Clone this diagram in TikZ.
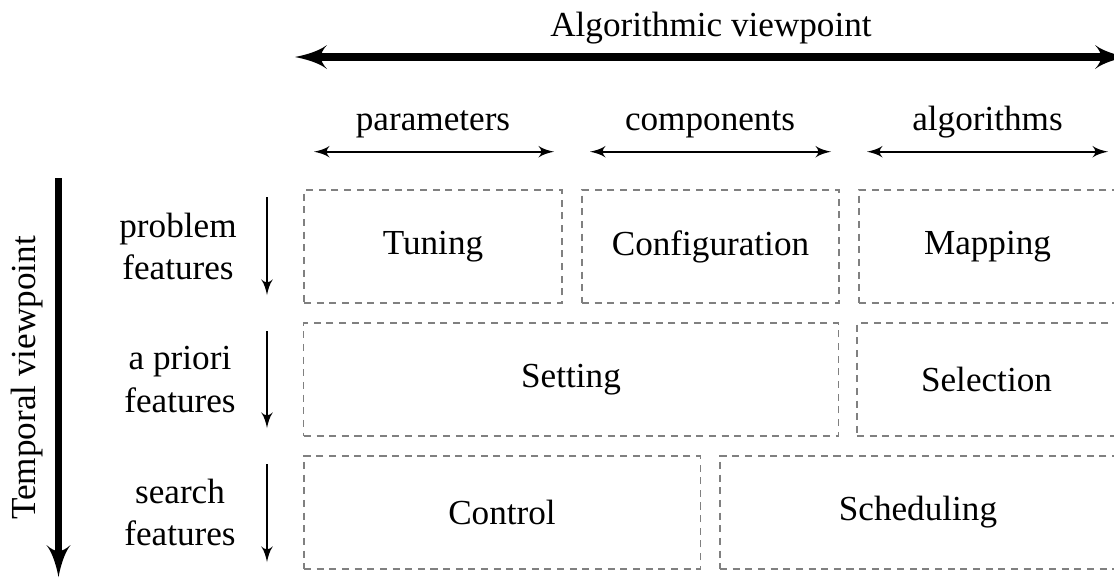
\documentclass[tikz,border=0pt]{standalone}
\usepackage{fontspec}
\setmainfont{Liberation Serif}
\usetikzlibrary{arrows}
\tikzstyle{cell}=[rectangle,draw=gray,dash pattern=on 2pt off 1.6pt,line width=0.35pt,minimum height=1.13cm,inner sep=0pt]
\tikzstyle{feat}=[align=center]
\tikzstyle{axis}=[line width=2.1pt,>=latex']
\tikzstyle{span}=[line width=0.55pt,>=latex']

\begin{document}
\begin{tikzpicture}[x=0.01cm,y=-0.01cm,font=\fontsize{10}{12.2}\selectfont]
  \useasboundingbox (0,0) rectangle (1114,578);
  %两条主轴
  \coordinate (aleft) at (295,57);
  \coordinate (aright) at (1127,57);
  \draw[axis,<->] (aleft)--(aright);
  \node[anchor=base] (algo) at (711,36){Algorithmic viewpoint};
  \coordinate (ttop) at (58.5,178);
  \coordinate (tbot) at (58.5,577);
  \draw[axis,->] (ttop)--(tbot);
  \node[rotate=90,anchor=base] (temp) at (35,378){Temporal viewpoint};
  %上方三段
  \node[anchor=base] (par) at (433,130){parameters};
  \node[anchor=base] (comp) at (710,130){components};
  \node[anchor=base] (alg) at (987.5,130){algorithms};
  \coordinate (p1) at (314,151.7);
  \coordinate (p2) at (554,151.7);
  \coordinate (c1) at (590,151.7);
  \coordinate (c2) at (831,151.7);
  \coordinate (g1) at (867,151.7);
  \coordinate (g2) at (1108,151.7);
  \draw[span,<->] (p1)--(p2);
  \draw[span,<->] (c1)--(c2);
  \draw[span,<->] (g1)--(g2);
  %左侧特征
  \node[feat] (prob) at (178,246.5){problem\\features};
  \node[feat] (apri) at (180,379.5){a priori\\features};
  \node[feat] (srch) at (180,512.5){search\\features};
  \coordinate (f1) at (267,197);
  \coordinate (f2) at (267,295);
  \coordinate (f3) at (267,331);
  \coordinate (f4) at (267,428);
  \coordinate (f5) at (267,464);
  \coordinate (f6) at (267,562);
  \draw[span,->] (f1)--(f2);
  \draw[span,->] (f3)--(f4);
  \draw[span,->] (f5)--(f6);
  %虚线框
  \node[cell,minimum width=2.58cm] (tuning) at (433,246.5){Tuning};
  \node[cell,minimum width=2.57cm] (config) at (710.5,246.5){Configuration};
  \node[cell,minimum width=2.57cm] (mapping) at (987.5,246.5){Mapping};
  \node[cell,minimum width=5.34cm] (setting) at (571,379.5){Setting};
  \node[cell,minimum width=2.59cm] (select) at (986.5,379.5){Selection};
  \node[cell,minimum width=3.96cm] (control) at (502,512.5){Control};
  \node[cell,minimum width=3.96cm] (sched) at (918,512.5){Scheduling};
\end{tikzpicture}
\end{document}
